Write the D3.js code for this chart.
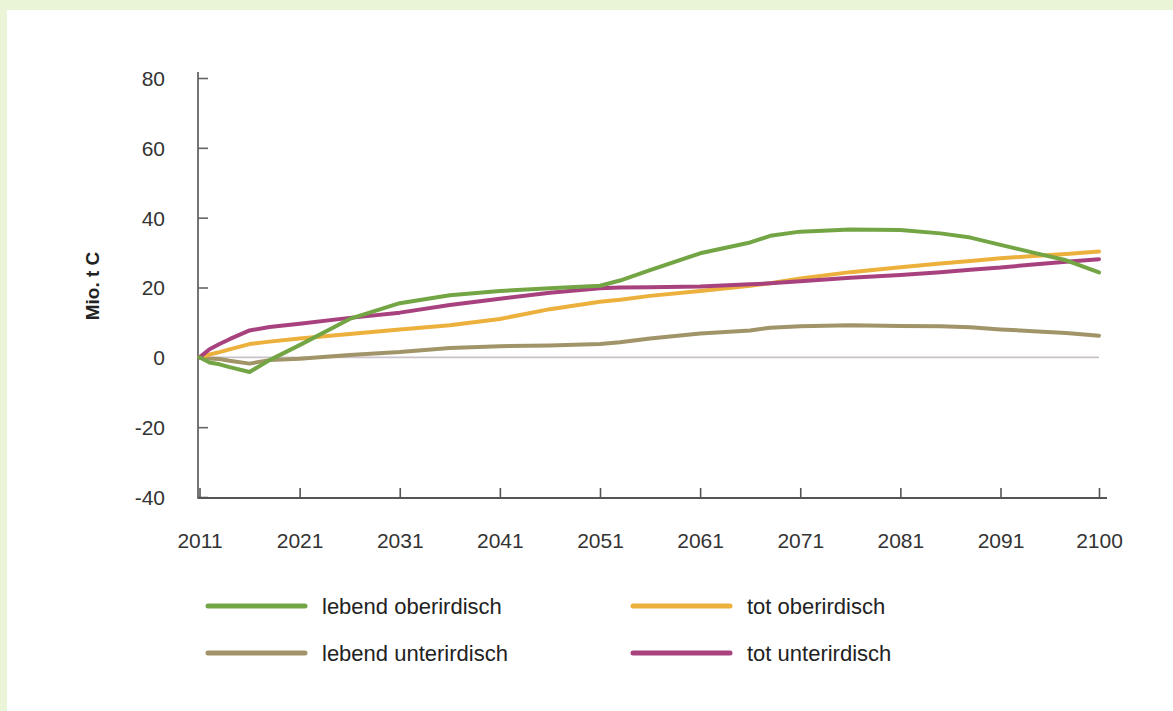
<!DOCTYPE html>
<html><head><meta charset="utf-8">
<script src="https://cdn.jsdelivr.net/npm/d3@7"></script>
<style>html,body{margin:0;padding:0;background:#fff;}svg{display:block;}</style>
</head><body>
<script>
const years = [2011,2012,2013,2014,2016,2018,2021,2026,2031,2036,2041,2046,2051,2053,2056,2061,2066,2068,2071,2076,2081,2085,2088,2091,2094,2097,2100];
const lebendOber = [0,-1.5,-2,-2.8,-4.2,-0.8,3.5,11,15.5,17.8,19,19.8,20.5,22,25,29.8,32.9,34.8,36,36.6,36.5,35.5,34.3,32.2,30,27.8,24.3];
const totOber = [0,0.8,1.5,2.3,3.8,4.5,5.4,6.7,8,9.2,11,13.8,15.9,16.5,17.6,19,20.5,21.2,22.6,24.4,25.8,26.9,27.6,28.4,29,29.6,30.3];
const lebendUnter = [0,-0.3,-0.5,-1,-1.8,-0.8,-0.4,0.7,1.5,2.7,3.2,3.4,3.8,4.3,5.4,6.8,7.7,8.5,8.9,9.2,9,8.9,8.6,8,7.5,7,6.2];
const totUnter = [0,2.3,3.8,5.2,7.7,8.7,9.6,11.3,12.8,15,16.8,18.5,19.8,20,20.1,20.3,20.9,21.2,21.8,22.8,23.6,24.4,25.1,25.7,26.6,27.4,28.1];
const xTicks = [2011,2021,2031,2041,2051,2061,2071,2081,2091,2100];
const yTicks = [-40,-20,0,20,40,60,80];
const seriesNames = ["lebend oberirdisch","tot oberirdisch","lebend unterirdisch","tot unterirdisch"];
const seriesColors = ["#73a545","#ecb03c","#a09468","#a8427f"];
const seriesValues = [lebendOber, totOber, lebendUnter, totUnter];

const W = 1173, H = 711;
const svg = d3.select("body").append("svg").attr("width", W).attr("height", H);
svg.append("rect").attr("width", W).attr("height", H).attr("fill", "#eaf4d6");
svg.append("rect").attr("x", 7).attr("y", 10).attr("width", W - 7).attr("height", H - 10).attr("fill", "#ffffff");

const font = "'Liberation Sans', Arial, sans-serif";
const x = d3.scaleLinear().domain([2011, 2091, 2100]).range([199.5, 1000.5, 1099]);
const y = d3.scaleLinear().domain([-40, 80]).range([497, 78]);

// zero line
svg.append("line").attr("x1", x(2011)).attr("x2", x(2100)).attr("y1", y(0)).attr("y2", y(0))
  .attr("stroke", "#c9c3c9").attr("stroke-width", 1.6);

// y axis
const yAxis = svg.append("g").attr("transform", `translate(${x(2011) - 1.5},0)`)
  .call(d3.axisRight(y).tickValues(yTicks).tickSize(10).tickFormat(d => d));
yAxis.select(".domain").attr("d", `M0,${y(80) - 6}V${y(-40) + 1}`).attr("stroke", "#666").attr("stroke-width", 1.8);
yAxis.selectAll(".tick line").attr("stroke", "#666").attr("stroke-width", 1.6);
yAxis.selectAll(".tick text").attr("x", -33).attr("text-anchor", "end").attr("dy", "0.35em")
  .attr("font-family", font).attr("font-size", 21).attr("fill", "#333");

// x axis
const xAxis = svg.append("g").attr("transform", `translate(0,${y(-40) + 1})`)
  .call(d3.axisTop(x).tickValues(xTicks).tickSize(10).tickFormat(d => d));
xAxis.select(".domain").attr("d", `M${x(2011) - 2},0H${x(2100) + 8}`).attr("stroke", "#555").attr("stroke-width", 1.8);
xAxis.selectAll(".tick line").attr("stroke", "#555").attr("stroke-width", 1.6);
xAxis.selectAll(".tick text").attr("y", 43).attr("dy", "0.35em")
  .attr("font-family", font).attr("font-size", 21).attr("fill", "#333");

// y label
svg.append("text").attr("transform", `translate(99,286) rotate(-90)`).attr("text-anchor", "middle")
  .attr("font-family", font).attr("font-size", 19).attr("font-weight", "bold").attr("fill", "#222").text("Mio. t C");

// lines
const line = d3.line().x((d, i) => x(years[i])).y(d => y(d));
const order = [2, 1, 3, 0];
order.forEach(k => {
  svg.append("path").datum(seriesValues[k]).attr("d", line).attr("fill", "none")
    .attr("stroke", seriesColors[k]).attr("stroke-width", 4).attr("stroke-linejoin", "round").attr("stroke-linecap", "round");
});

// legend
const legPos = [[208, 606], [633, 606], [208, 653], [633, 653]];
seriesNames.forEach((n, i) => {
  const [lx, ly] = legPos[i];
  svg.append("line").attr("x1", lx).attr("x2", lx + 97).attr("y1", ly).attr("y2", ly)
    .attr("stroke", seriesColors[i]).attr("stroke-width", 5).attr("stroke-linecap", "round");
  svg.append("text").attr("x", lx + 114).attr("y", ly).attr("dy", "0.35em")
    .attr("font-family", font).attr("font-size", 22).attr("fill", "#222").text(n);
});
</script>
</body></html>
